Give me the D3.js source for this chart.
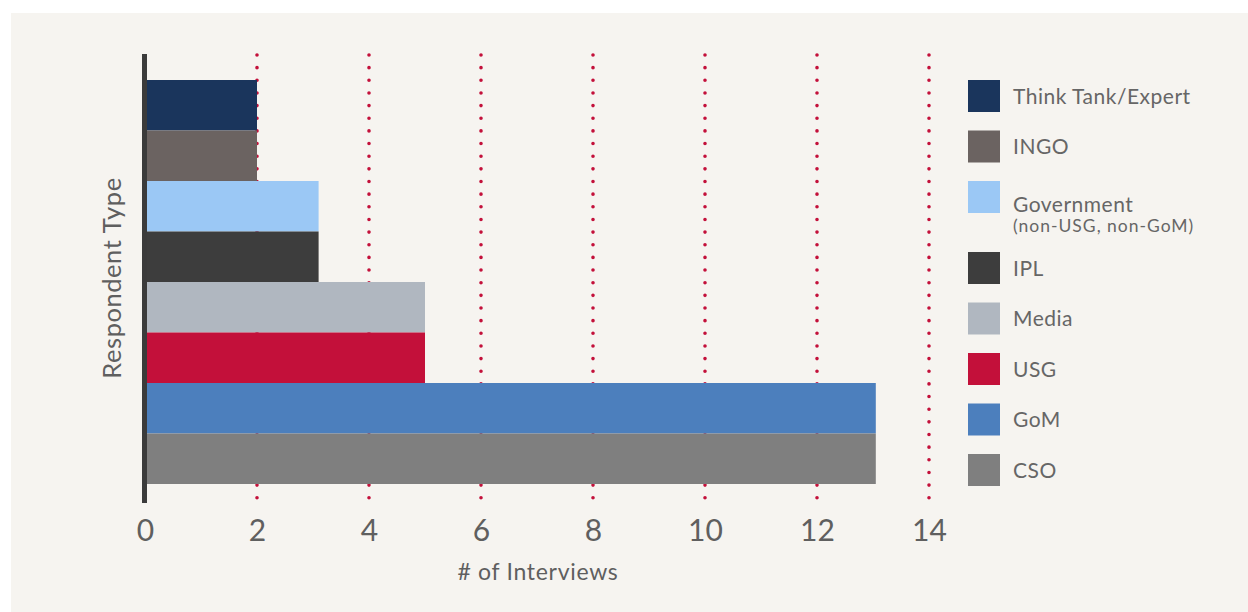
<!DOCTYPE html>
<html>
<head>
<meta charset="utf-8">
<script src="https://cdn.jsdelivr.net/npm/d3@7"></script>
<style>
  html, body { margin: 0; padding: 0; background: #ffffff; }
  svg { display: block; }
  text { font-family: "Lato", "Open Sans", sans-serif; }
</style>
</head>
<body>
<svg id="chart" width="1248" height="612"></svg>
<script>
const categories = ["Think Tank/Expert", "INGO", "Government", "IPL", "Media", "USG", "GoM", "CSO"];
const legendSub = ["", "", "(non-USG, non-GoM)", "", "", "", "", ""];
const values = [2, 2, 3.1, 3.1, 5, 5, 13.05, 13.05];
const colors = ["#1a355c", "#6b6361", "#9bc8f5", "#3d3d3d", "#b0b7c0", "#c3103a", "#4c7fbd", "#7f7f7f"];
const xTicks = [0, 2, 4, 6, 8, 10, 12, 14];
const gridTicks = [2, 4, 6, 8, 10, 12, 14];

const svg = d3.select("#chart");
svg.append("rect").attr("x", 11).attr("y", 13).attr("width", 1237).attr("height", 599).attr("fill", "#f6f4f0");

const x = d3.scaleLinear().domain([0, 14]).range([145, 929]);
const y = d3.scaleBand().domain(categories).range([80, 484]).padding(0);

// dotted gridlines
svg.append("g").selectAll("line").data(gridTicks).join("line")
  .attr("x1", d => x(d)).attr("x2", d => x(d))
  .attr("y1", 55).attr("y2", 504)
  .attr("stroke", "#c3103a").attr("stroke-width", 3.6)
  .attr("stroke-linecap", "round")
  .attr("stroke-dasharray", "0,12.65");

// bars
svg.append("g").selectAll("rect").data(categories).join("rect")
  .attr("x", x(0)).attr("y", d => y(d))
  .attr("width", (d, i) => x(values[i]) - x(0))
  .attr("height", y.bandwidth())
  .attr("fill", (d, i) => colors[i]);

// axis line
svg.append("line").attr("x1", 144.5).attr("x2", 144.5).attr("y1", 54).attr("y2", 503)
  .attr("stroke", "#3b3b3b").attr("stroke-width", 5);

// x axis tick labels
const xAxis = d3.axisBottom(x).tickValues(xTicks).tickSize(0).tickPadding(0);
const gx = svg.append("g").attr("transform", "translate(0,518)").call(xAxis);
gx.select(".domain").remove();
gx.selectAll("text").attr("font-size", 30).attr("fill", "#5f5f5f")
  .attr("font-family", "Lato, sans-serif").attr("dy", "0.75em");

// axis titles
svg.append("text").attr("x", 538).attr("y", 580).attr("text-anchor", "middle")
  .attr("font-size", 23).attr("letter-spacing", 0.7).attr("fill", "#5f5f5f").text("# of Interviews");
svg.append("text").attr("transform", "translate(121,278) rotate(-90)").attr("text-anchor", "middle")
  .attr("font-size", 25.5).attr("letter-spacing", 0.55).attr("fill", "#5f5f5f").text("Respondent Type");

// legend
const legendY = [80, 130.5, 181, 252, 302.5, 353, 403.5, 454];
const lg = svg.append("g").selectAll("g").data(categories).join("g")
  .attr("transform", (d, i) => `translate(968,${legendY[i]})`);
lg.append("rect").attr("width", 32).attr("height", 32).attr("fill", (d, i) => colors[i]);
lg.append("text").attr("x", 45).attr("y", (d, i) => legendSub[i] ? 31 : 23.5)
  .attr("font-size", 21).attr("letter-spacing", 0.5).attr("fill", "#666").text(d => d);
lg.filter((d, i) => legendSub[i]).append("text").attr("x", 45).attr("y", 51)
  .attr("font-size", 17.5).attr("letter-spacing", 1.0).attr("fill", "#666").text((d) => legendSub[categories.indexOf(d)]);
</script>
</body>
</html>
